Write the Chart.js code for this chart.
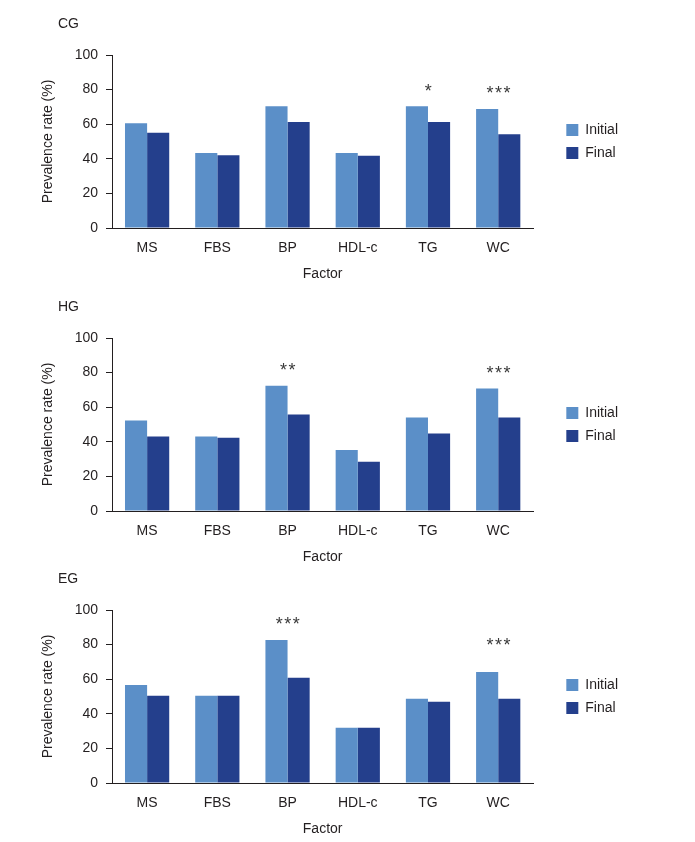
<!DOCTYPE html>
<html>
<head>
<meta charset="utf-8">
<script src="https://cdn.jsdelivr.net/npm/chart.js@4/dist/chart.umd.min.js"></script>
<style>
    body { margin: 0; background: #fff; width: 695px; height: 842px; position: relative; overflow: hidden; }
    .panel { position: absolute; left: 0; width: 695px; height: 284px; }
</style>
</head>
<body>
<div class="panel" style="top:0"><canvas id="cgChart" width="695" height="284"></canvas></div>
<div class="panel" style="top:283px"><canvas id="hgChart" width="695" height="284"></canvas></div>
<div class="panel" style="top:555px"><canvas id="egChart" width="695" height="284"></canvas></div>
<script>
// categories and tick values
const factors = ['MS', 'FBS', 'BP', 'HDL-c', 'TG', 'WC'];
const yTicks = [0, 20, 40, 60, 80, 100];
const seriesNames = ['Initial', 'Final'];

// CG
const cgInitial = [60.6, 43.3, 70.4, 43.3, 70.4, 68.8];
const cgFinal = [55.0, 42.1, 61.2, 41.7, 61.2, 54.2];
const cgSig = ['', '', '', '', '*', '***'];
const cgSigAt = [null, null, null, null, 81.5, 80.5];

// HG
const hgInitial = [52.3, 43.0, 72.4, 35.3, 54.0, 70.8];
const hgFinal = [43.0, 42.4, 55.8, 28.5, 44.8, 54.0];
const hgSig = ['', '', '**', '', '', '***'];
const hgSigAt = [null, null, 84.1, null, null, 81.8];

// EG
const egInitial = [56.7, 50.4, 82.7, 31.9, 48.7, 64.2];
const egFinal = [50.4, 50.4, 60.8, 31.9, 47.0, 48.7];
const egSig = ['', '', '***', '', '', '***'];
const egSigAt = [null, null, 94.2, null, null, 82.1];

const textColor = '#231f20';
const fontFamily = '"Liberation Sans", Arial, sans-serif';
const colors = { initial: '#5b8fc8', final: '#243f8c' };

// panel label + significance stars
const annotatePlugin = {
    id: 'annotate',
    afterDatasetsDraw(chart, args, opts) {
        const ctx = chart.ctx;
        const x = chart.scales.x;
        const y = chart.scales.y;
        ctx.save();
        ctx.fillStyle = textColor;
        ctx.font = '14px ' + fontFamily;
        ctx.textBaseline = 'middle';
        ctx.textAlign = 'left';
        ctx.fillText(opts.label, 58, 24);
        ctx.font = '18px ' + fontFamily;
        ctx.fillStyle = '#3a3a3a';
        ctx.letterSpacing = '1.5px';
        ctx.textAlign = 'center';
        ctx.textBaseline = 'alphabetic';
        opts.sig.forEach((s, i) => {
            if (!s) return;
            ctx.fillText(s, x.getPixelForValue(i) + 1, y.getPixelForValue(opts.sigAt[i]) + 10);
        });
        ctx.restore();
    }
};

function makePanel(canvasId, label, initial, final, sig, sigAt) {
    const font = { family: fontFamily, size: 14 };
    return new Chart(document.getElementById(canvasId), {
        type: 'bar',
        data: {
            labels: factors,
            datasets: [
                { label: seriesNames[0], data: initial, backgroundColor: colors.initial, borderWidth: 0 },
                { label: seriesNames[1], data: final, backgroundColor: colors.final, borderWidth: 0 }
            ]
        },
        options: {
            responsive: false,
            animation: false,
            events: [],
            categoryPercentage: 0.63,
            barPercentage: 1.0,
            layout: { padding: { top: 55, left: 36, right: 67, bottom: 0 } },
            plugins: {
                legend: {
                    position: 'right',
                    fullSize: false,
                    labels: { boxWidth: 12, boxHeight: 12, padding: 9, color: textColor, font }
                },
                tooltip: { enabled: false },
                annotate: { label, sig, sigAt }
            },
            scales: {
                x: {
                    ticks: { color: textColor, font, padding: 12 },
                    grid: { display: false, drawTicks: false },
                    border: { color: textColor, width: 1 },
                    title: { display: true, text: 'Factor', color: textColor, font, padding: { top: 0, bottom: 1 } },
                    afterFit(scale) { scale.height = 56; }
                },
                y: {
                    min: 0,
                    max: 100,
                    afterBuildTicks(scale) { scale.ticks = yTicks.map(v => ({ value: v })); },
                    ticks: { color: textColor, font, padding: 8 },
                    grid: { drawOnChartArea: false, drawTicks: true, tickLength: 6, tickColor: textColor },
                    border: { color: textColor, width: 1 },
                    title: { display: true, text: 'Prevalence rate (%)', color: textColor, font, padding: { top: 4, bottom: 4 } },
                    afterFit(scale) { scale.width = 76; }
                },
                // spacer between plot and legend
                yPad: {
                    type: 'linear',
                    position: 'right',
                    ticks: { display: false },
                    grid: { display: false },
                    border: { display: false },
                    afterFit(scale) { scale.width = 24; }
                }
            }
        },
        plugins: [annotatePlugin]
    });
}

makePanel('cgChart', 'CG', cgInitial, cgFinal, cgSig, cgSigAt);
makePanel('hgChart', 'HG', hgInitial, hgFinal, hgSig, hgSigAt);
makePanel('egChart', 'EG', egInitial, egFinal, egSig, egSigAt);
</script>
</body>
</html>
